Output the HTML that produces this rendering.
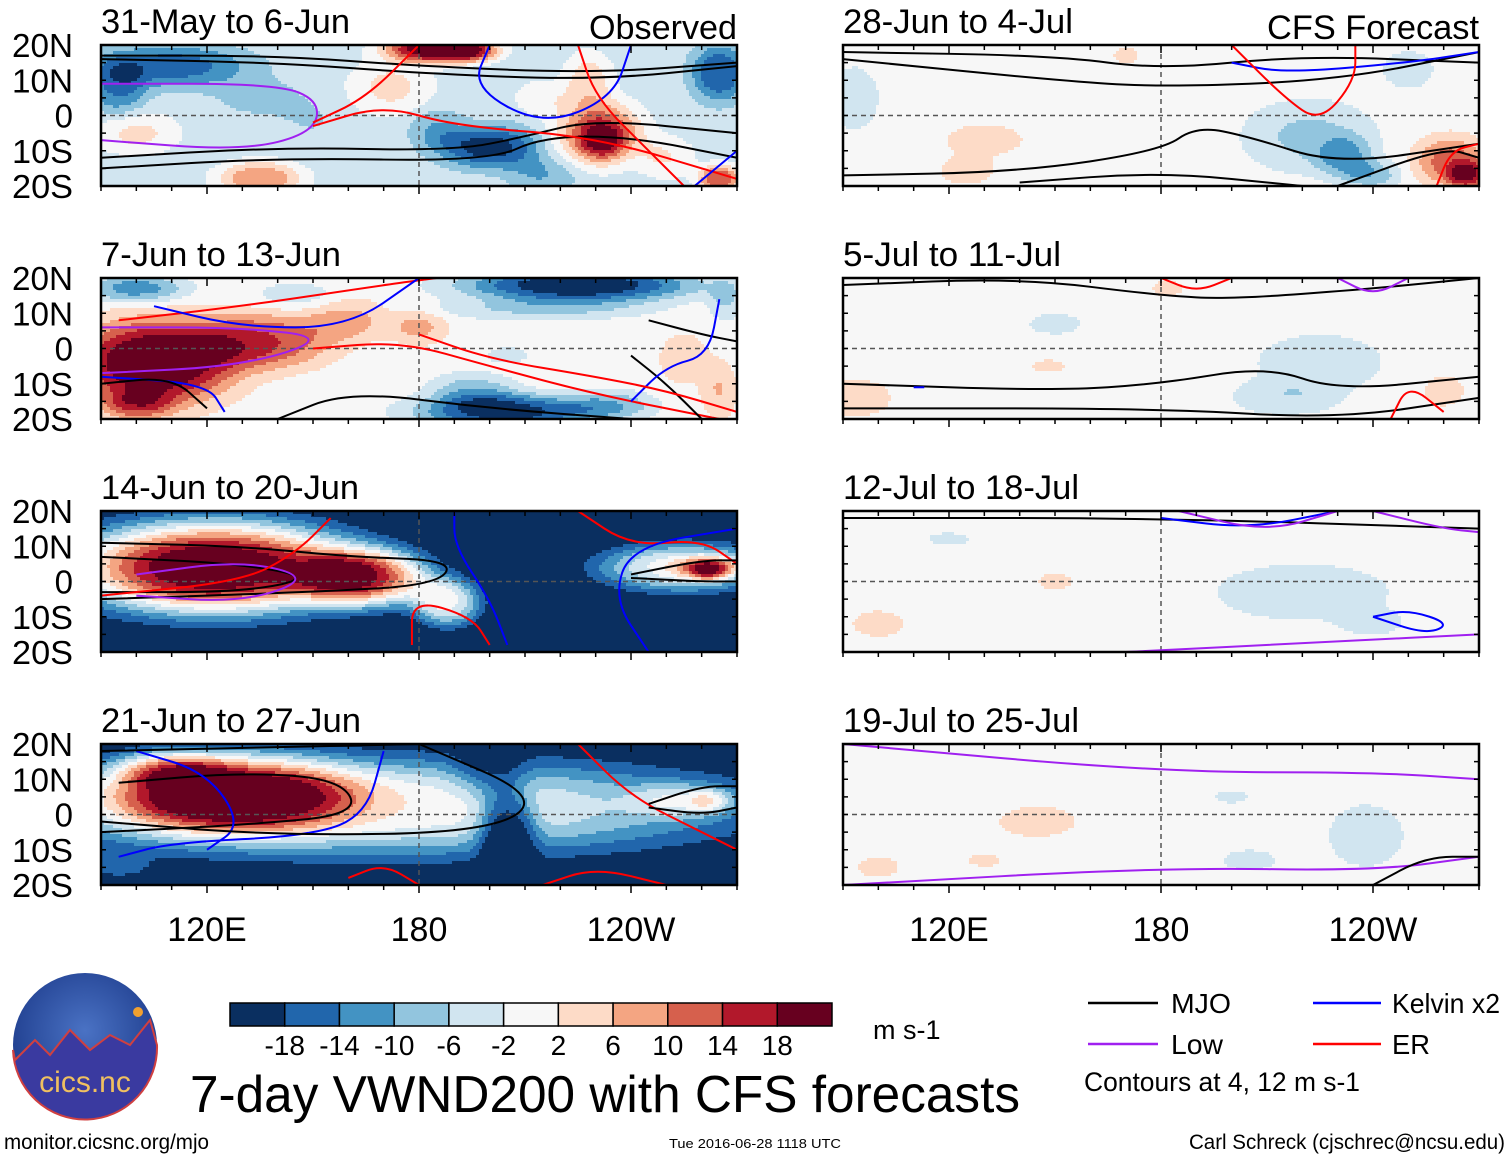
<!DOCTYPE html>
<html><head><meta charset="utf-8"><style>
html,body{margin:0;padding:0;background:#fff;}
svg{display:block;font-family:"Liberation Sans",sans-serif;}
</style></head><body>
<svg id="fig" width="1510" height="1158" viewBox="0 0 1510 1158" xmlns="http://www.w3.org/2000/svg">
<defs>
<radialGradient id="logoG" cx="50%" cy="40%" r="60%"><stop offset="0" stop-color="#4a72c4"/><stop offset="1" stop-color="#1c3a8a"/></radialGradient>
</defs>
<g id="panels"></g>
<g id="bottom">
  <g>
    <circle cx="85" cy="1045" r="72" fill="url(#logoG)"/>
    <path d="M15,1060 L35,1040 L50,1055 L70,1030 L90,1050 L110,1035 L130,1045 L150,1020 L157,1045 A72,72 0 0 1 13,1050Z" fill="#3a3aa0" stroke="#d04040" stroke-width="2"/>
    <circle cx="138" cy="1012" r="5" fill="#f0a030"/>
    <text x="85" y="1092" font-size="30" fill="#f0c060" text-anchor="middle">cics.nc</text>
  </g>
  <g id="cbar"></g>
  <text x="873" y="1039" font-size="27">m s-1</text>
  <text x="190" y="1112" font-size="52" textLength="830" lengthAdjust="spacingAndGlyphs">7-day VWND200 with CFS forecasts</text>
  <g>
    <line x1="1088" y1="1003" x2="1158" y2="1003" stroke="#000" stroke-width="2.5"/>
    <text x="1171" y="1013" font-size="28" textLength="60" lengthAdjust="spacingAndGlyphs">MJO</text>
    <line x1="1313" y1="1003" x2="1381" y2="1003" stroke="#0000ff" stroke-width="2.5"/>
    <text x="1392" y="1013" font-size="28" textLength="108" lengthAdjust="spacingAndGlyphs">Kelvin x2</text>
    <line x1="1088" y1="1044" x2="1158" y2="1044" stroke="#a020f0" stroke-width="2.5"/>
    <text x="1171" y="1054" font-size="28" textLength="52" lengthAdjust="spacingAndGlyphs">Low</text>
    <line x1="1313" y1="1044" x2="1381" y2="1044" stroke="#ff0000" stroke-width="2.5"/>
    <text x="1392" y="1054" font-size="28" textLength="38" lengthAdjust="spacingAndGlyphs">ER</text>
    <text x="1084" y="1091" font-size="27" textLength="276" lengthAdjust="spacingAndGlyphs">Contours at 4, 12 m s-1</text>
  </g>
  <text x="4" y="1149" font-size="21" textLength="205" lengthAdjust="spacingAndGlyphs">monitor.cicsnc.org/mjo</text>
  <text x="669" y="1148" font-size="13" textLength="172" lengthAdjust="spacingAndGlyphs">Tue 2016-06-28 1118 UTC</text>
  <text x="1189" y="1149" font-size="21" textLength="316" lengthAdjust="spacingAndGlyphs">Carl Schreck (cjschrec@ncsu.edu)</text>
</g>
</svg>
<script>
const NS='http://www.w3.org/2000/svg';
// ---- data ----
const levels=[-18,-14,-10,-6,-2,2,6,10,14,18];
const colors=['#0a2f60','#2166ac','#4393c3','#92c5de','#d1e5f0','#f7f7f7','#fddbc7','#f4a582','#d6604d','#b2182b','#67001f'];
const panelTitles=['31-May to 6-Jun','7-Jun to 13-Jun','14-Jun to 20-Jun','21-Jun to 27-Jun','28-Jun to 4-Jul','5-Jul to 11-Jul','12-Jul to 18-Jul','19-Jul to 25-Jul'];
const titleWidths=[249,240,258,260,230,218,236,236];
const latTicks=['20N','10N','0','10S','20S'];
const latVals=[20,10,0,-10,-20];
const lonTicks=['120E','180','120W'];
const lonVals=[120,180,240];
// background value per panel
const panelBg=[-4,0,-24,-24,0,0,0,0];
// anomaly blobs added to background: [lon, lat, rxDeg, ryDeg, delta]
const blobs0=[[110,14,22,6,-12],[95,8,8,8,-10],[135,5,15,6,-3],[185,19,14,4,28],[195,18,8,3,10],[172,8,12,8,7],[150,-2,10,6,-2],[200,-9,14,6,-16],[185,-4,8,6,-6],[231,-5,12,9,18],[232,-7,6,5,10],[228,10,7,8,8],[265,12,8,8,-14],[100,-5,12,6,7],[135,-18,12,5,14],[265,-18,6,4,18],[250,-12,8,6,6],[215,-17,10,5,-6],[245,16,6,5,-2],[215,5,8,5,5]];
const blobs1=[[105,-4,22,12,24],[135,2,20,8,14],[160,8,12,6,7],[180,6,8,5,7],[100,17,14,4,-12],[145,15,12,4,-4],[225,18,32,5,-22],[215,11,30,3,-6],[205,-18,25,5,-20],[195,-12,12,5,-8],[235,-16,12,4,-8],[255,-3,8,8,4],[267,14,5,6,-6],[100,-16,10,4,10],[265,-12,5,8,6],[205,-2,8,3,-3]];
const blobs2=[[122,4,40,13,48],[165,1,18,8,32],[188,-6,10,7,22],[255,4,25,7,24],[262,4,10,3,14],[262,3,5,3,10]];
const blobs3=[[170,2,100,14,24],[125,6,35,11,34],[110,13,15,5,14],[205,-4,8,11,-18],[200,12,10,8,-8],[255,4,15,5,10],[262,4,6,3,8],[95,-15,10,4,6]];
const blobs4=[[222,-6,18,10,-7],[232,-12,8,6,-9],[240,-17,8,4,-8],[250,13,8,6,-4],[262,-13,10,7,12],[267,-17,6,4,14],[93,5,8,10,-4],[130,-7,15,6,3],[125,-16,8,4,4],[200,16,6,5,2],[170,17,6,4,2.5]];
const blobs5=[[225,-4,20,9,-4],[215,-14,15,5,-5],[150,7,10,4,-3],[93,-14,12,6,4],[260,-12,8,6,3],[182,17,6,3,3],[148,-5,8,3,2.5]];
const blobs6=[[220,-3,28,9,-4],[240,-12,10,4,-3],[100,-12,10,5,3],[150,0,8,4,2.5],[120,12,10,3,-2.5]];
const blobs7=[[238,-6,12,10,-4],[145,-2,15,6,3],[100,-15,8,4,3],[205,-13,10,4,-3],[200,5,8,3,-2.5],[130,-13,8,3,2.5]];
const allBlobs=[blobs0,blobs1,blobs2,blobs3,blobs4,blobs5,blobs6,blobs7];
// contour lines: [type, [[lon,lat],...]]
const lines0=[['mjo',[[90,17],[140,17],[180,14],[230,12],[270,15]]],['mjo',[[90,16],[140,15],[180,12],[230,10],[270,14]]],['mjo',[[90,-12],[140,-9],[190,-10],[210,-6],[230,-1],[270,-5]]],['mjo',[[90,-15],[140,-12],[200,-13],[215,-6],[240,-6],[270,-12]]],['low',[[90,9],[140,9],[152,4],[150,-5],[130,-10],[90,-7]]],['er',[[150,-2],[165,5],[180,20]]],['er',[[150,-3],[170,3],[190,-3],[230,-6],[270,-18]]],['kel',[[200,20],[195,8],[215,-3],[235,5],[240,20]]],['er',[[225,20],[230,5],[245,-10],[255,-20]]],['kel',[[258,-20],[270,-10]]]];
const lines1=[['er',[[95,8],[130,12],[170,18],[185,20]]],['kel',[[105,12],[130,6],[160,6],[180,20]]],['low',[[90,6],[130,6],[155,3],[130,-5],[90,-7]]],['er',[[150,0],[175,2],[200,-5],[230,-13],[265,-20]]],['kel',[[90,-8],[120,-10],[125,-18]]],['mjo',[[90,-10],[110,-8],[120,-17]]],['mjo',[[140,-20],[160,-12],[200,-17],[240,-20]]],['mjo',[[245,8],[260,4],[270,2]]],['mjo',[[240,-2],[250,-10],[260,-20]]],['kel',[[240,-15],[250,-5],[262,-2],[265,14]]],['er',[[180,4],[200,-3],[230,-8],[250,-12],[270,-18]]]];
const lines2=[['mjo',[[90,11],[130,10],[160,7],[190,6],[185,-1],[150,-3],[90,-5]]],['mjo',[[90,7],[130,5],[150,1],[130,-3],[90,-3]]],['low',[[100,2],[130,6],[150,1],[130,-6],[100,-4]]],['er',[[90,-4],[130,0],[145,8],[155,18]]],['er',[[178,-18],[178,-5],[195,-10],[200,-18]]],['kel',[[190,20],[190,10],[200,-5],[205,-18]]],['er',[[225,20],[240,10],[260,12],[270,5]]],['kel',[[245,-20],[235,-5],[240,10],[270,15]]],['mjo',[[240,2],[260,6],[270,6]]],['mjo',[[240,1],[260,0],[270,0]]]];
const lines3=[['mjo',[[95,9],[130,12],[158,10],[163,0],[130,-3],[90,-5]]],['kel',[[95,-12],[110,-8],[150,-6],[165,0],[170,18]]],['kel',[[100,18],[120,12],[130,-3],[120,-10]]],['mjo',[[90,-2],[140,-6],[200,-5],[215,5],[180,20]]],['mjo',[[90,18],[180,20]]],['er',[[225,20],[240,5],[260,-5],[270,-10]]],['mjo',[[245,3],[260,8],[270,8]]],['mjo',[[245,2],[260,0],[270,2]]],['er',[[160,-18],[170,-14],[180,-20]]],['er',[[215,-20],[230,-15],[250,-20]]]];
const lines4=[['mjo',[[90,16],[150,10],[180,8],[230,10],[270,18]]],['mjo',[[90,18],[150,17],[180,13],[220,17],[270,15]]],['mjo',[[90,-17],[140,-16],[180,-10],[190,-3],[205,-6],[230,-14],[270,-8]]],['mjo',[[140,-19],[180,-16],[220,-20]]],['mjo',[[230,-20],[260,-9],[270,-12]]],['kel',[[200,15],[215,12],[250,15],[270,18]]],['er',[[200,20],[215,5],[225,-2],[235,10],[235,20]]],['er',[[258,-20],[262,-10],[270,-8]]]];
const lines5=[['mjo',[[90,18],[140,20],[180,15],[200,14],[240,17],[270,20]]],['mjo',[[90,-10],[150,-12],[180,-10],[210,-5],[230,-12],[270,-8]]],['mjo',[[90,-17],[180,-17],[230,-20],[270,-14]]],['er',[[180,20],[190,16],[200,20]]],['low',[[230,20],[240,15],[250,20]]],['er',[[245,-20],[250,-10],[260,-18]]],['kel',[[110,-11],[113,-11]]]];
const lines6=[['mjo',[[90,18],[180,18],[270,15]]],['kel',[[180,18],[205,15],[230,20]]],['low',[[185,20],[210,14],[230,20]]],['low',[[240,20],[260,15],[270,14]]],['low',[[170,-20],[230,-17],[270,-15]]],['kel',[[240,-10],[255,-15],[262,-12],[250,-8],[240,-10]]]];
const lines7=[['mjo',[[90,20],[180,20],[270,20]]],['low',[[90,20],[180,12],[240,12],[270,10]]],['low',[[90,-20],[180,-15],[240,-16],[270,-12]]],['mjo',[[240,-20],[255,-12],[270,-12]]]];
const allLines=[lines0,lines1,lines2,lines3,lines4,lines5,lines6,lines7];
// ---- layout / axis functions ----
const colX=[101,843], rowY=[45,278,511,744], PW=636, PH=141;
const lonMin=90, lonMax=270, latMin=-20, latMax=20;
function xOf(px,lon){return px+(lon-lonMin)/(lonMax-lonMin)*PW;}
function yOf(py,lat){return py+(latMax-lat)/(latMax-latMin)*PH;}
function lonOf(px,x){return lonMin+(x-px)/PW*(lonMax-lonMin);}
function latOf(py,y){return latMax-(y-py)/PH*(latMax-latMin);}
function colorOf(v){let i=0;while(i<levels.length&&v>levels[i])i++;return colors[i];}
function field(p,lon,lat){
  let v=panelBg[p];
  allBlobs[p].forEach(b=>{
    const dx=(lon-b[0])/b[2], dy=(lat-b[1])/b[3];
    const r2=dx*dx+dy*dy;
    v+=b[4]*Math.exp(-Math.pow(r2,1.3));
  });
  return v;
}
function mk(tag,attrs,parent){const e=document.createElementNS(NS,tag);for(const k in attrs)e.setAttribute(k,attrs[k]);parent.appendChild(e);return e;}
const strokeOf={mjo:'#000',kel:'#0000ff',low:'#a020f0',er:'#ff0000'};
const root=document.getElementById('panels');
const defs=document.querySelector('defs');
const STEP=3;
for(let p=0;p<8;p++){
  const px=colX[p<4?0:1], py=rowY[p%4];
  const g=mk('g',{},root);
  
  
  const cp=mk('clipPath',{id:'cp'+p},defs);
  mk('rect',{x:px,y:py,width:PW,height:PH},cp);
  const inner=mk('g',{'clip-path':'url(#cp'+p+')'},g);
  const fg=mk('g',{'shape-rendering':'crispEdges'},inner);
  
  
  for(let y=py;y<py+PH;y+=STEP){
    const lat=latOf(py,y+STEP/2);
    let runStart=px, runCol=null;
    for(let x=px;x<=px+PW;x+=STEP){
      const c= x<px+PW ? colorOf(field(p,lonOf(px,x+STEP/2),lat)) : null;
      if(c!==runCol){
        if(runCol!==null) mk('rect',{x:runStart,y:y,width:x-runStart+0.5,height:STEP+0.5,fill:runCol},fg);
        runStart=x; runCol=c;
      }
    }
  }
  mk('line',{x1:px,y1:yOf(py,0),x2:px+PW,y2:yOf(py,0),stroke:'#555','stroke-width':1.5,'stroke-dasharray':'5,4'},inner);
  mk('line',{x1:xOf(px,180),y1:py,x2:xOf(px,180),y2:py+PH,stroke:'#555','stroke-width':1.5,'stroke-dasharray':'5,4'},inner);
  allLines[p].forEach(l=>{
    const pts=l[1].map(q=>[xOf(px,q[0]),yOf(py,q[1])]);
    let d='M'+pts[0][0]+','+pts[0][1];
    for(let i=1;i<pts.length;i++){const a=pts[i-1],b=pts[i];const mx=(a[0]+b[0])/2,my=(a[1]+b[1])/2;d+=' Q'+a[0]+','+a[1]+' '+mx+','+my;}
    d+=' L'+pts[pts.length-1][0]+','+pts[pts.length-1][1];
    const e=mk('path',{d:d,fill:'none',stroke:strokeOf[l[0]],'stroke-width':2},inner);
    
    
  });
  mk('rect',{x:px,y:py,width:PW,height:PH,fill:'none',stroke:'#000','stroke-width':2.5},g);
  for(let lon=lonMin;lon<=lonMax;lon+=10){
    const x=xOf(px,lon), L=(lon%60===0)?8:5;
    mk('line',{x1:x,y1:py,x2:x,y2:py+L,stroke:'#000','stroke-width':1.5},g);
    mk('line',{x1:x,y1:py+PH,x2:x,y2:py+PH+L,stroke:'#000','stroke-width':1.5},g);
  }
  for(let lat=latMin;lat<=latMax;lat+=5){
    const y=yOf(py,lat);
    mk('line',{x1:px,y1:y,x2:px+5,y2:y,stroke:'#000','stroke-width':1.5},g);
    mk('line',{x1:px+PW,y1:y,x2:px+PW-5,y2:y,stroke:'#000','stroke-width':1.5},g);
  }
  const t=mk('text',{x:px,y:py-12,'font-size':34,textLength:titleWidths[p],lengthAdjust:'spacingAndGlyphs'},g);
  t.textContent=panelTitles[p];
  
  
  if(p===0||p===4){
    const s=mk('text',{x:px+PW,y:py-6,'font-size':34,'text-anchor':'end',textLength:p===0?148:212,lengthAdjust:'spacingAndGlyphs'},g);
    s.textContent=p===0?'Observed':'CFS Forecast';
    
    
  }
  if(p<4){
    latVals.forEach((lat,i)=>{
      const lt=mk('text',{x:73,y:yOf(py,lat)+12,'font-size':33,'text-anchor':'end'},g);
      if(latTicks[i]!=='0'){lt.setAttribute('textLength',61);lt.setAttribute('lengthAdjust','spacingAndGlyphs');}
      lt.textContent=latTicks[i];
      
      
    });
  }
  if(p%4===3){
    lonVals.forEach((lon,i)=>{
      const xt=mk('text',{x:xOf(px,lon),y:941,'font-size':34,'text-anchor':'middle'},g);
      xt.textContent=lonTicks[i];
      
      
    });
  }
}
const cb=document.getElementById('cbar');
const cbX=230,cbY=1003,cbW=602,cbH=23,bw=cbW/colors.length;
colors.forEach((c,i)=>{
  const r=mk('rect',{x:cbX+i*bw,y:cbY,width:bw,height:cbH,fill:c,stroke:'#000','stroke-width':1.5},cb);
  
  
});
levels.forEach((v,i)=>{
  const t=mk('text',{x:cbX+(i+1)*bw,y:1055,'font-size':28,'text-anchor':'middle'},cb);
  t.textContent=String(v);
  
  
});
</script>
</body></html>
